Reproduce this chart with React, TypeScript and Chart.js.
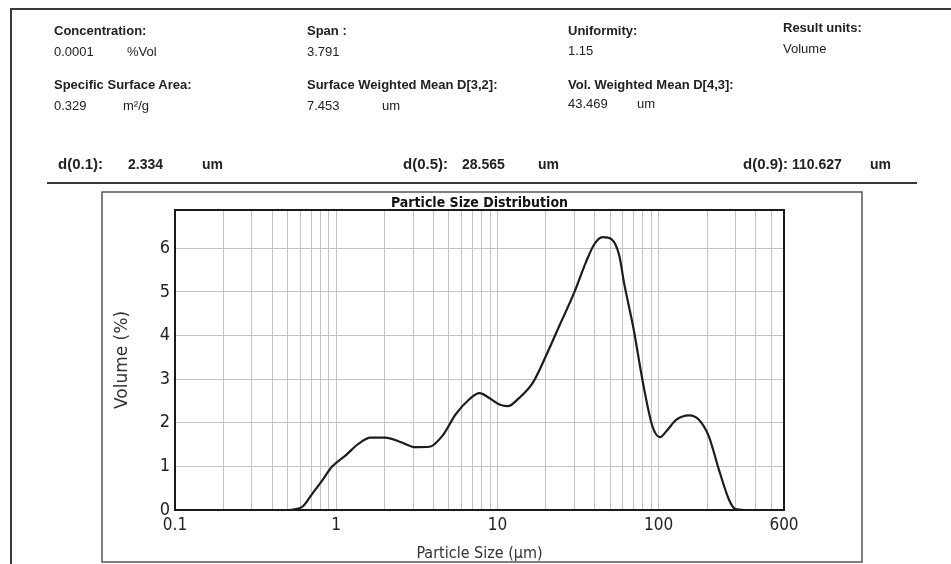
import { useEffect, useRef } from "react";
import { Chart, registerables } from "chart.js";

Chart.register(...registerables);

// ---- data ----
const PARTICLE_SIZE_UM = [
  0.1, 0.3, 0.5, 0.56, 0.62, 0.71, 0.82, 0.94, 1.15, 1.38, 1.63, 2.02, 2.5, 3.1, 3.8,
  4.6, 5.5, 6.7, 7.74, 8.9, 10.3, 11.6, 13.3, 16.6, 20, 24.2, 30, 35.4, 40, 45,
  51, 57, 61, 70, 80, 91.6, 102, 112, 129, 155, 178, 205, 237, 274, 300, 340, 600,
];
const VOLUME_PCT = [
  0, 0, 0, 0.02, 0.08, 0.37, 0.68, 0.99, 1.26, 1.52, 1.66, 1.66, 1.56, 1.44, 1.45,
  1.72, 2.19, 2.54, 2.68, 2.57, 2.42, 2.38, 2.53, 2.92, 3.53, 4.22, 4.99, 5.68, 6.1, 6.26,
  6.21, 5.84, 5.22, 4.15, 2.92, 1.92, 1.67, 1.81, 2.07, 2.17, 2.07, 1.69, 0.92, 0.23, 0.02, 0, 0,
];
const X_GRID_VALUES = [
  0.1, 0.2, 0.3, 0.4, 0.5, 0.6, 0.7, 0.8, 0.9,
  1, 2, 3, 4, 5, 6, 7, 8, 9,
  10, 20, 30, 40, 50, 60, 70, 80, 90,
  100, 200, 300, 400, 500, 600,
];
const X_TICK_LABELS = ["0.1", "1", "10", "100", "600"];
const Y_TICK_VALUES = [0, 1, 2, 3, 4, 5, 6];
const X_MIN = 0.1;
const X_MAX = 600;
const Y_MIN = 0;
const Y_MAX = 6.88;

const CHART_TITLE = "Particle Size Distribution";
const X_TITLE = "Particle Size (μm)";
const Y_TITLE = "Volume (%)";

const NARROW = "'Liberation Sans Narrow', 'DejaVu Sans Condensed', 'Arial Narrow', sans-serif";
const WIDE = "'DejaVu Sans', Verdana, sans-serif";

const framePlugin = {
  id: "framePlugin",
  beforeDraw(chart: any) {
    const ctx = chart.ctx;
    ctx.save();
    ctx.fillStyle = "#ffffff";
    ctx.fillRect(0, 0, chart.width, chart.height);
    ctx.strokeStyle = "#3a3a3a";
    ctx.lineWidth = 2;
    // outer page frame
    ctx.beginPath();
    ctx.moveTo(10, 9);
    ctx.lineTo(951, 9);
    ctx.moveTo(11, 8);
    ctx.lineTo(11, 564);
    ctx.stroke();
    // separator under summary rows
    ctx.beginPath();
    ctx.moveTo(47, 183);
    ctx.lineTo(917, 183);
    ctx.stroke();
    // chart frame
    ctx.strokeStyle = "#555555";
    ctx.lineWidth = 1.5;
    ctx.strokeRect(102, 192, 760, 370);
    ctx.restore();
  },
  afterDraw(chart: any) {
    const { left, top, right, bottom } = chart.chartArea;
    const ctx = chart.ctx;
    ctx.save();
    ctx.strokeStyle = "#1a1a1a";
    ctx.lineWidth = 2;
    ctx.strokeRect(left, top, right - left, bottom - top);
    ctx.restore();
  },
};

function PsdChart() {
  const ref = useRef<HTMLCanvasElement | null>(null);
  useEffect(() => {
    if (!ref.current) return;
    const chart = new Chart(ref.current, {
      type: "line",
      data: {
        datasets: [
          {
            data: PARTICLE_SIZE_UM.map((x, i) => ({ x, y: VOLUME_PCT[i] })),
            borderColor: "#1c1c1c",
            borderWidth: 2.2,
            pointRadius: 0,
            fill: false,
            cubicInterpolationMode: "monotone",
          },
        ],
      },
      options: {
        responsive: false,
        animation: false,
        layout: { padding: { left: 105, right: 167, top: 196, bottom: 0 } },
        plugins: {
          legend: { display: false },
          tooltip: { enabled: false },
          title: {
            display: true,
            text: CHART_TITLE,
            fullSize: false,
            color: "#111",
            font: { family: NARROW, size: 14, weight: "bold", lineHeight: 1 },
            padding: { top: 0, bottom: 0 },
          },
        },
        scales: {
          x: {
            type: "logarithmic",
            min: X_MIN,
            max: X_MAX,
            afterBuildTicks: (scale: any) => {
              scale.ticks = X_GRID_VALUES.map((v) => ({ value: v }));
            },
            afterFit: (scale: any) => {
              scale.height = 54;
            },
            grid: { color: "#c4c4c4", lineWidth: 1, drawTicks: false },
            border: { display: false },
            ticks: {
              autoSkip: false,
              maxRotation: 0,
              padding: 5,
              color: "#222",
              font: { family: NARROW, size: 17 },
              callback: (value: any) =>
                X_TICK_LABELS.includes(String(value)) ? String(value) : "",
            },
            title: {
              display: true,
              text: X_TITLE,
              color: "#333",
              font: { family: NARROW, size: 16, lineHeight: 1.2 },
              padding: { top: 0, bottom: 1 },
            },
          },
          y: {
            type: "linear",
            min: Y_MIN,
            max: Y_MAX,
            afterBuildTicks: (scale: any) => {
              scale.ticks = Y_TICK_VALUES.map((v) => ({ value: v }));
            },
            afterFit: (scale: any) => {
              scale.width = 70;
            },
            grid: { color: "#c4c4c4", lineWidth: 1, drawTicks: false },
            border: { display: false },
            ticks: {
              padding: 5,
              color: "#222",
              font: { family: NARROW, size: 18 },
            },
            title: {
              display: true,
              text: Y_TITLE,
              color: "#333",
              font: { family: WIDE, size: 17, lineHeight: 1.2 },
              padding: { top: 7, bottom: 0 },
            },
          },
        },
      } as any,
      plugins: [framePlugin],
    });
    return () => chart.destroy();
  }, []);
  return (
    <canvas
      ref={ref}
      width={951}
      height={564}
      style={{ position: "absolute", left: 0, top: 0, width: 951, height: 564 }}
    />
  );
}

const T = (props: {
  x: number;
  y: number;
  bold?: boolean;
  size?: number;
  children: any;
}) => {
  const size = props.size ?? 13;
  return (
    <div
      style={{
        position: "absolute",
        left: props.x,
        top: props.y - 8,
        height: 16,
        lineHeight: "16px",
        fontSize: size,
        fontFamily: "'Liberation Sans', Arial, sans-serif",
        fontWeight: props.bold ? "bold" : "normal",
        color: "#222",
        whiteSpace: "nowrap",
      }}
    >
      {props.children}
    </div>
  );
};

export default function App() {
  return (
    <div
      style={{
        position: "absolute",
        left: 0,
        top: 0,
        width: 951,
        height: 564,
        background: "#fff",
        overflow: "hidden",
      }}
    >
      <PsdChart />
      <T x={54} y={31} bold>Concentration:</T>
      <T x={54} y={52}>0.0001</T>
      <T x={127} y={52}>%Vol</T>
      <T x={307} y={31} bold>Span :</T>
      <T x={307} y={52}>3.791</T>
      <T x={568} y={31} bold>Uniformity:</T>
      <T x={568} y={51}>1.15</T>
      <T x={783} y={28} bold>Result units:</T>
      <T x={783} y={49}>Volume</T>

      <T x={54} y={85} bold>Specific Surface Area:</T>
      <T x={54} y={106}>0.329</T>
      <T x={123} y={106}>m²/g</T>
      <T x={307} y={85} bold>Surface Weighted Mean D[3,2]:</T>
      <T x={307} y={106}>7.453</T>
      <T x={382} y={106}>um</T>
      <T x={568} y={85} bold>Vol. Weighted Mean D[4,3]:</T>
      <T x={568} y={104}>43.469</T>
      <T x={637} y={104}>um</T>

      <T x={58} y={164} bold size={15}>d(0.1):</T>
      <T x={128} y={164} bold size={14}>2.334</T>
      <T x={202} y={164} bold size={14}>um</T>
      <T x={403} y={164} bold size={15}>d(0.5):</T>
      <T x={462} y={164} bold size={14}>28.565</T>
      <T x={538} y={164} bold size={14}>um</T>
      <T x={743} y={164} bold size={15}>d(0.9):</T>
      <T x={792} y={164} bold size={14}>110.627</T>
      <T x={870} y={164} bold size={14}>um</T>
    </div>
  );
}
